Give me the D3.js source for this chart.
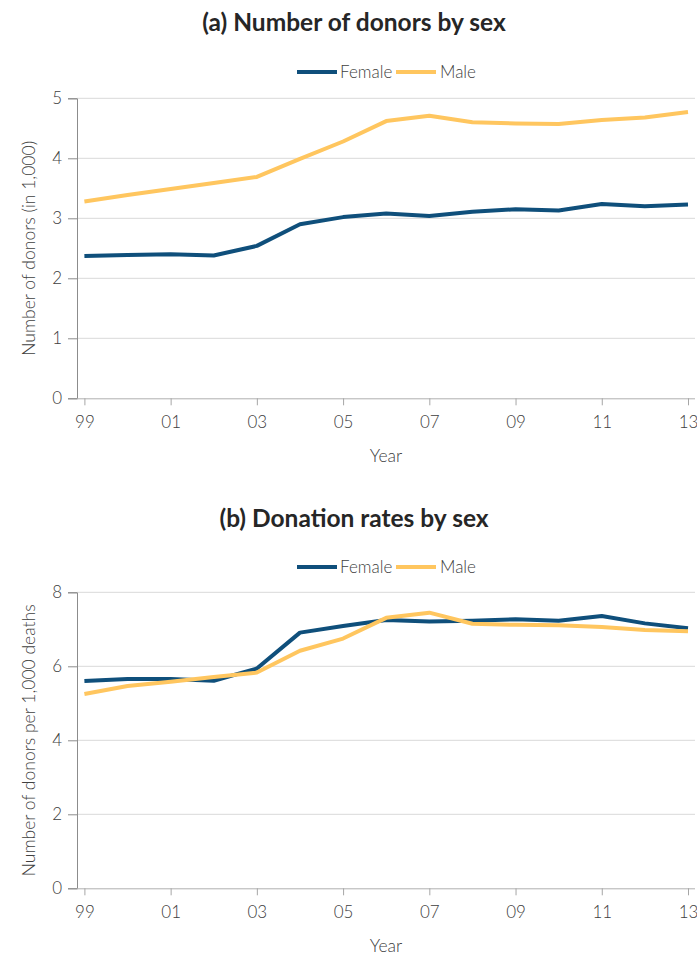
<!DOCTYPE html>
<html>
<head>
<meta charset="utf-8">
<script src="https://cdn.jsdelivr.net/npm/d3@7"></script>
<style>
  html, body { margin: 0; padding: 0; background: #fff; }
  svg { display: block; font-family: Lato, "Open Sans", sans-serif; }
</style>
</head>
<body>
<svg id="chart" width="697" height="955"></svg>
<script>
// Years on the horizontal axis
const years = [1999, 2000, 2001, 2002, 2003, 2004, 2005, 2006, 2007, 2008, 2009, 2010, 2011, 2012, 2013];
const yearTicks = [1999, 2001, 2003, 2005, 2007, 2009, 2011, 2013];
const yearTickLabels = ["99", "01", "03", "05", "07", "09", "11", "13"];

// (a) Number of donors, thousands
const donorsFemale = [2.37, 2.39, 2.40, 2.38, 2.54, 2.90, 3.02, 3.08, 3.04, 3.11, 3.15, 3.13, 3.24, 3.20, 3.23];
const donorsMale   = [3.28, 3.39, 3.49, 3.59, 3.69, 3.99, 4.28, 4.62, 4.71, 4.60, 4.58, 4.57, 4.64, 4.68, 4.77];
const donorsTicks  = [0, 1, 2, 3, 4, 5];

// (b) Donors per 1,000 deaths
const ratesFemale = [5.60, 5.66, 5.66, 5.61, 5.94, 6.91, 7.09, 7.25, 7.21, 7.23, 7.27, 7.23, 7.36, 7.16, 7.03];
const ratesMale   = [5.25, 5.47, 5.58, 5.71, 5.83, 6.42, 6.75, 7.31, 7.45, 7.15, 7.12, 7.11, 7.06, 6.98, 6.95];
const ratesTicks  = [0, 2, 4, 6, 8];

const seriesNames = ["Female", "Male"];
const seriesColors = ["#0f4f7b", "#ffc65f"];

const svg = d3.select("#chart");
const textColor = "#404040";
const labelWeight = 300;

function drawPanel(cfg) {
  const g = svg.append("g");
  const x = d3.scaleLinear().domain([years[0], years[years.length - 1]]).range([84.4, 688]);
  const y = d3.scaleLinear().domain([0, d3.max(cfg.ticks)]).range([cfg.bottom, cfg.top]);
  const axisLeft = 77, gridRight = 695;

  // Title
  g.append("text")
    .attr("x", 354).attr("y", cfg.titleY)
    .attr("text-anchor", "middle")
    .attr("font-size", 24.5).attr("font-weight", 700)
    .attr("fill", "#262626")
    .text(cfg.title);

  // Legend
  const legend = g.append("g").attr("transform", `translate(0, ${cfg.legendY})`);
  const legendItems = [{ x: 297, tx: 340 }, { x: 396, tx: 440 }];
  seriesNames.forEach((name, i) => {
    legend.append("line")
      .attr("x1", legendItems[i].x).attr("x2", legendItems[i].x + 40)
      .attr("y1", 0).attr("y2", 0)
      .attr("stroke", seriesColors[i]).attr("stroke-width", 4);
    legend.append("text")
      .attr("x", legendItems[i].tx).attr("y", 6)
      .attr("font-size", 17).attr("font-weight", labelWeight).attr("fill", textColor)
      .text(name);
  });

  // Horizontal gridlines
  g.append("g").selectAll("line")
    .data(cfg.ticks.filter(t => t > 0))
    .join("line")
    .attr("x1", axisLeft).attr("x2", gridRight)
    .attr("y1", d => y(d)).attr("y2", d => y(d))
    .attr("stroke", "#d9d9d9").attr("stroke-width", 1);

  // Y axis
  const yAxis = g.append("g")
    .attr("transform", `translate(${axisLeft},0)`)
    .call(d3.axisLeft(y).tickValues(cfg.ticks).tickSize(9).tickPadding(6).tickFormat(d3.format("d")));
  yAxis.select(".domain").attr("stroke", "#8c8c8c");
  yAxis.selectAll(".tick line").attr("stroke", "#8c8c8c");
  yAxis.selectAll(".tick text").attr("font-size", 17).attr("font-weight", labelWeight).attr("fill", textColor)
    .attr("font-family", "Lato, sans-serif");

  // X axis
  const xAxis = g.append("g")
    .attr("transform", `translate(0,${cfg.bottom})`)
    .call(d3.axisBottom(x).tickValues(yearTicks).tickSize(7).tickPadding(11)
      .tickFormat((d, i) => yearTickLabels[i]));
  xAxis.select(".domain").attr("d", `M${axisLeft},0.5H${gridRight}`).attr("stroke", "#b0b0b0");
  xAxis.selectAll(".tick line").attr("stroke", "#a6a6a6");
  xAxis.selectAll(".tick text").attr("font-size", 17).attr("font-weight", labelWeight).attr("fill", textColor)
    .attr("font-family", "Lato, sans-serif");

  // Axis titles
  g.append("text")
    .attr("x", 386).attr("y", cfg.bottom + 64)
    .attr("text-anchor", "middle")
    .attr("font-size", 17.5).attr("font-weight", labelWeight).attr("fill", textColor)
    .text("Year");
  g.append("text")
    .attr("transform", `translate(35, ${(cfg.top + cfg.bottom) / 2}) rotate(-90)`)
    .attr("text-anchor", "middle")
    .attr("font-size", 17.5).attr("font-weight", labelWeight).attr("fill", textColor)
    .text(cfg.yTitle);

  // Lines
  const line = d3.line().x((d, i) => x(years[i])).y(d => y(d));
  cfg.series.forEach((vals, i) => {
    g.append("path")
      .datum(vals)
      .attr("d", line)
      .attr("fill", "none")
      .attr("stroke", seriesColors[i])
      .attr("stroke-width", 4)
      .attr("stroke-linejoin", "round");
  });
}

drawPanel({
  title: "(a) Number of donors by sex",
  titleY: 31,
  legendY: 72,
  top: 98.3, bottom: 398.3,
  ticks: donorsTicks,
  yTitle: "Number of donors (in 1,000)",
  series: [donorsFemale, donorsMale]
});

drawPanel({
  title: "(b) Donation rates by sex",
  titleY: 527,
  legendY: 567,
  top: 592.3, bottom: 888.3,
  ticks: ratesTicks,
  yTitle: "Number of donors per 1,000 deaths",
  series: [ratesFemale, ratesMale]
});
</script>
</body>
</html>
